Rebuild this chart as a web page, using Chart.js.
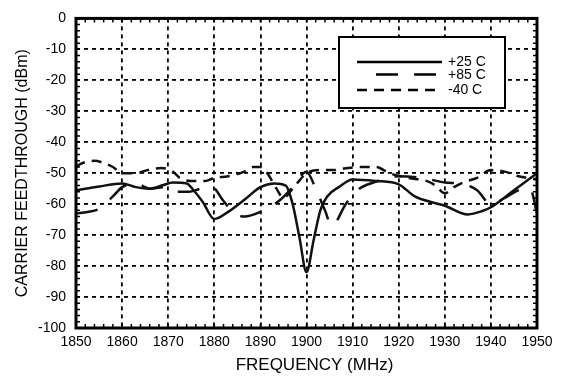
<!DOCTYPE html>
<html>
<head>
<meta charset="utf-8">
<script src="https://cdn.jsdelivr.net/npm/chart.js@4.4.1/dist/chart.umd.min.js"></script>
<style>
  html, body { margin: 0; padding: 0; background: #fff; }
</style>
</head>
<body>
<canvas id="chart" width="561" height="381"></canvas>
<script>
// Tick values
const freqTicks = [1850, 1860, 1870, 1880, 1890, 1900, 1910, 1920, 1930, 1940, 1950];
const feedTicks = [-100, -90, -80, -70, -60, -50, -40, -30, -20, -10, 0];

// +25 C
const freq25 = [1850, 1855, 1860, 1863, 1866, 1869, 1871, 1874, 1875.5, 1877.5, 1880, 1883, 1887, 1890, 1893,
    1895.5, 1897, 1898.5, 1900, 1901.5, 1903, 1904.5, 1907, 1910, 1915, 1920, 1923.5, 1927, 1930, 1935,
    1938, 1940, 1945, 1950];
const feed25 = [-55.5, -54.3, -53.3, -54.5, -55, -53.8, -53, -53.3, -55.5, -59.3, -64.8, -62.5, -58, -54.5, -53.3,
    -54, -60, -71, -82, -72, -62, -57.5, -54.5, -52, -52.5, -53.6, -57.5, -59.3, -60.5, -63.3,
    -62.3, -61, -55.5, -50];

// +85 C
const freq85 = [1850, 1852.5, 1855, 1858, 1860, 1863, 1866, 1869, 1871, 1874.5, 1877, 1879.5, 1882, 1884,
    1886.5, 1890, 1894, 1897, 1900, 1902, 1904, 1905.5, 1908.5, 1911, 1914.5, 1920, 1925, 1930, 1934,
    1937, 1940, 1943, 1946, 1948.5, 1950];
const feed85 = [-63, -62.5, -61.5, -57.5, -54.5, -53.3, -55, -54.5, -56, -56, -55, -54.5, -59, -62.5,
    -64, -62.5, -59, -54.5, -49.5, -55, -62, -67, -60, -55.5, -53, -51, -51.5, -53, -53.5,
    -55.5, -60, -58, -55.5, -55, -63];

// -40 C
const freqM40 = [1850, 1851, 1854, 1856, 1858, 1860, 1863, 1865.5, 1868.5, 1871, 1872.5, 1875, 1878, 1880,
    1883, 1886.5, 1888.5, 1890, 1891.5, 1893.5, 1895, 1897, 1900, 1903, 1906, 1909, 1912, 1915, 1918,
    1922, 1926, 1928, 1930, 1932, 1934, 1937, 1940, 1943, 1946, 1950];
const feedM40 = [-48, -47, -46, -46.7, -48, -50, -50, -49, -48.3, -49.5, -51.5, -52.5, -52.5, -51.5,
    -51, -49.5, -48, -48, -50, -55, -58, -55, -50, -49, -49, -48.3, -48, -48, -50,
    -51.5, -52.5, -54, -56.5, -54.5, -53, -51.5, -49, -49.5, -51, -52];

const toPoints = (xs, ys) => xs.map((x, i) => ({ x: x, y: ys[i] }));

const FONT = "'Liberation Sans', Arial, Helvetica, sans-serif";
Chart.defaults.font.family = FONT;
Chart.defaults.color = '#000';

// thick frame + small inward ticks every 2 units + x title
const framePlugin = {
    id: 'frame',
    afterDatasetsDraw(chart) {
        const { ctx, chartArea: a, scales: { x, y } } = chart;
        ctx.save();
        ctx.strokeStyle = '#000';
        ctx.lineWidth = 1.5;
        ctx.beginPath();
        for (let v = 1852; v < 1950; v += 2) {
            const px = x.getPixelForValue(v);
            ctx.moveTo(px, a.bottom); ctx.lineTo(px, a.bottom - 4);
            ctx.moveTo(px, a.top); ctx.lineTo(px, a.top + 4);
        }
        for (let v = -98; v < 0; v += 2) {
            const py = y.getPixelForValue(v);
            ctx.moveTo(a.left, py); ctx.lineTo(a.left + 4, py);
            ctx.moveTo(a.right, py); ctx.lineTo(a.right - 4, py);
        }
        ctx.stroke();
        ctx.lineWidth = 3;
        ctx.strokeRect(a.left, a.top, a.right - a.left, a.bottom - a.top);

        // x axis title, sitting a little right of centre like the original
        ctx.fillStyle = '#000';
        ctx.font = '17px ' + FONT;
        ctx.textAlign = 'center';
        ctx.textBaseline = 'middle';
        ctx.fillText('FREQUENCY (MHz)', (a.left + a.right) / 2 + 8, 365);
        ctx.restore();
    }
};

// boxed legend inside the plot
const boxLegend = {
    id: 'boxLegend',
    afterDraw(chart) {
        const { ctx } = chart;
        const box = { x: 339, y: 37, w: 166, h: 71 };
        const rows = [62, 74.5, 90];
        const lineStart = [357, 376, 357];
        ctx.save();
        ctx.fillStyle = '#fff';
        ctx.fillRect(box.x, box.y, box.w, box.h);
        ctx.strokeStyle = '#000';
        ctx.lineWidth = 2;
        ctx.strokeRect(box.x, box.y, box.w, box.h);
        chart.data.datasets.forEach((ds, i) => {
            ctx.beginPath();
            ctx.setLineDash(ds.borderDash || []);
            ctx.lineWidth = ds.borderWidth;
            ctx.moveTo(lineStart[i], rows[i]);
            ctx.lineTo(442, rows[i]);
            ctx.stroke();
            ctx.setLineDash([]);
            ctx.fillStyle = '#000';
            ctx.font = '14px ' + FONT;
            ctx.textBaseline = 'middle';
            ctx.fillText(ds.label, 448, rows[i] + 0.5);
        });
        ctx.restore();
    }
};

new Chart(document.getElementById('chart'), {
    type: 'line',
    data: {
        datasets: [
            {
                label: '+25 C',
                data: toPoints(freq25, feed25),
                borderColor: '#111',
                borderWidth: 2.5,
                borderDash: [],
            },
            {
                label: '+85 C',
                data: toPoints(freq85, feed85),
                borderColor: '#111',
                borderWidth: 2.5,
                borderDash: [22, 16],
            },
            {
                label: '-40 C',
                data: toPoints(freqM40, feedM40),
                borderColor: '#111',
                borderWidth: 2.5,
                borderDash: [10, 7],
            }
        ]
    },
    options: {
        responsive: false,
        animation: false,
        parsing: false,
        layout: { padding: { top: 9, right: 24, left: 0, bottom: 0 } },
        elements: {
            point: { radius: 0 },
            line: { cubicInterpolationMode: 'monotone', fill: false }
        },
        plugins: {
            legend: { display: false },
            tooltip: { enabled: false }
        },
        scales: {
            x: {
                type: 'linear',
                min: freqTicks[0],
                max: freqTicks[freqTicks.length - 1],
                afterBuildTicks: s => { s.ticks = freqTicks.map(v => ({ value: v })); },
                afterFit: s => { s.height = 53; },
                ticks: { font: { size: 14 }, padding: 6, maxRotation: 0, color: '#000', callback: v => String(v) },
                grid: { color: '#000', lineWidth: 1.8, drawTicks: false },
                border: { display: false, dash: [4, 4] },
                title: { display: false }
            },
            y: {
                min: feedTicks[0],
                max: feedTicks[feedTicks.length - 1],
                afterBuildTicks: s => { s.ticks = feedTicks.map(v => ({ value: v })); },
                afterFit: s => { s.width = 76; },
                ticks: { font: { size: 14 }, padding: 10, color: '#000', callback: v => String(v) },
                grid: { color: '#000', lineWidth: 1.8, drawTicks: false },
                border: { display: false, dash: [4, 4] },
                title: { display: true, text: 'CARRIER FEEDTHROUGH (dBm)', font: { size: 16 }, padding: { top: 13, bottom: 0 } }
            }
        }
    },
    plugins: [framePlugin, boxLegend]
});
</script>
</body>
</html>
